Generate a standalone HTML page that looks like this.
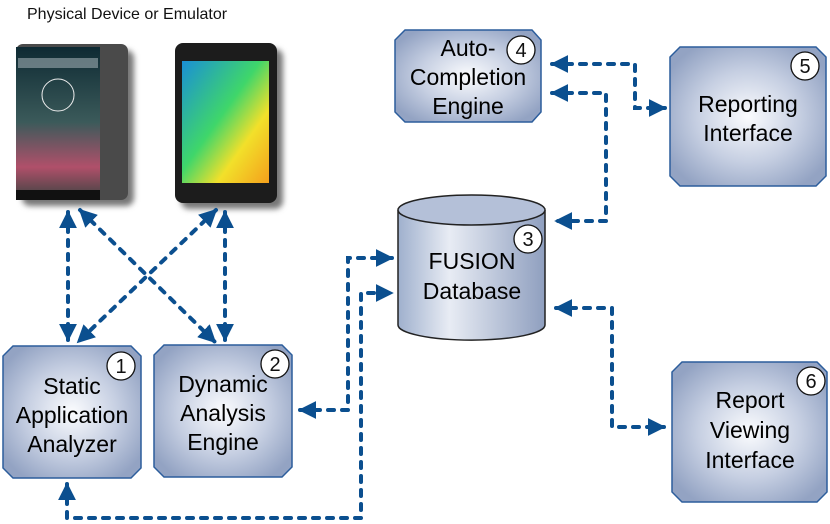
<!DOCTYPE html>
<html><head><meta charset="utf-8"><style>
html,body{margin:0;padding:0;background:#fff;}
svg{display:block;font-family:"Liberation Sans",Arial,sans-serif;}
</style></head><body>
<svg width="830" height="524" viewBox="0 0 830 524" xmlns="http://www.w3.org/2000/svg">
<defs>
<radialGradient id="g" cx="0.5" cy="0.5" r="0.6">
<stop offset="0" stop-color="#fbfcfe"/><stop offset="0.55" stop-color="#c6cfe2"/><stop offset="1" stop-color="#93a3c3"/>
</radialGradient>
<linearGradient id="cyl" x1="0" x2="1" y1="0" y2="0">
<stop offset="0" stop-color="#9fb0cd"/><stop offset="0.35" stop-color="#e8ecf4"/><stop offset="1" stop-color="#8f9fbf"/>
</linearGradient>
<linearGradient id="scr" x1="0" y1="0" x2="1" y2="1">
<stop offset="0" stop-color="#1a8fd6"/><stop offset="0.45" stop-color="#3fd66a"/><stop offset="0.7" stop-color="#f2e02a"/><stop offset="1" stop-color="#f4a01c"/>
</linearGradient>
<linearGradient id="scr2" x1="0" y1="0" x2="0" y2="1">
<stop offset="0" stop-color="#0e2a33"/><stop offset="0.5" stop-color="#3b5a5a"/><stop offset="0.8" stop-color="#b0506a"/><stop offset="1" stop-color="#444"/>
</linearGradient>
<marker id="a" viewBox="0 0 10 10" refX="9" refY="5" markerWidth="4.5" markerHeight="4.5" orient="auto-start-reverse" markerUnits="strokeWidth">
<path d="M0,0 L10,5 L0,10 z" fill="#0b4f8f"/></marker>
<filter id="sh" x="-20%" y="-20%" width="150%" height="150%"><feGaussianBlur stdDeviation="3"/></filter>
</defs>

<text x="27" y="19" font-size="16" fill="#111">Physical Device or Emulator</text>

<rect x="22" y="50" width="112" height="156" rx="8" fill="#777" filter="url(#sh)"/>
<rect x="16" y="44" width="112" height="156" rx="7" fill="#4a4a4a"/>
<rect x="16" y="47" width="84" height="150" fill="url(#scr2)"/>
<rect x="18" y="58" width="80" height="10" fill="#8a9aa0" opacity="0.7"/>
<circle cx="58" cy="95" r="16" fill="none" stroke="#eee" stroke-width="1"/>
<rect x="16" y="190" width="84" height="10" fill="#111"/>
<rect x="181" y="49" width="102" height="160" rx="8" fill="#777" filter="url(#sh)"/>
<rect x="175" y="43" width="102" height="160" rx="8" fill="#1c1c1c"/>
<rect x="182" y="61" width="87" height="122" fill="url(#scr)"/>

<g fill="none" stroke="#0b4f8f" stroke-width="4" stroke-dasharray="6 8" stroke-linecap="round">
<path d="M68 212 L68 340" marker-start="url(#a)" marker-end="url(#a)"/>
<path d="M225 212 L225 340" marker-start="url(#a)" marker-end="url(#a)"/>
<path d="M80 210 L215 342" marker-start="url(#a)" marker-end="url(#a)"/>
<path d="M216 210 L78 342" marker-start="url(#a)" marker-end="url(#a)"/>
<path d="M300 410 L348 410 L348 258 L392 258" marker-start="url(#a)" marker-end="url(#a)"/>
<path d="M67 484 L67 518 L361 518 L361 293 L392 293" marker-start="url(#a)" marker-end="url(#a)"/>
<path d="M552 64 L635 64 L635 108 L665 108" marker-start="url(#a)" marker-end="url(#a)"/>
<path d="M552 93 L606 93 L606 221 L556 221" marker-start="url(#a)" marker-end="url(#a)"/>
<path d="M556 308 L612 308 L612 427 L664 427" marker-start="url(#a)" marker-end="url(#a)"/>
</g>

<g stroke="#2c5d9c" stroke-width="1.5" fill="url(#g)">
<path d="M405 30 L532 30 L541 40 L541 112 L532 122 L405 122 L395 112 L395 40 Z"/>
<path d="M680 47 L816 47 L826 57 L826 176 L816 186 L680 186 L670 176 L670 57 Z"/>
<path d="M13 346 L131 346 L141 356 L141 468 L131 478 L13 478 L3 468 L3 356 Z"/>
<path d="M164 345 L282 345 L292 355 L292 467 L282 477 L164 477 L154 467 L154 355 Z"/>
<path d="M682 362 L817 362 L827 372 L827 492 L817 502 L682 502 L672 492 L672 372 Z"/>
</g>
<path d="M398 210 L398 325 A73 15 0 0 0 545 325 L545 210" fill="url(#cyl)" stroke="#222" stroke-width="1.5"/>
<ellipse cx="471.5" cy="210" rx="73.5" ry="15" fill="#b4c0d8" stroke="#222" stroke-width="1.5"/>

<g stroke="#111" stroke-width="1.3" fill="#fff">
<circle cx="521" cy="50" r="14"/><circle cx="805" cy="66" r="14"/><circle cx="528" cy="239" r="14"/>
<circle cx="121" cy="366" r="14"/><circle cx="275" cy="364" r="14"/><circle cx="811" cy="381" r="14"/>
</g>
<g font-size="20" text-anchor="middle" fill="#111">
<text x="521" y="57">4</text><text x="805" y="73">5</text><text x="528" y="246">3</text>
<text x="121" y="373">1</text><text x="275" y="371">2</text><text x="811" y="388">6</text>
</g>
<g font-size="23" text-anchor="middle" fill="#000">
<text x="468" y="56">Auto-</text><text x="468" y="85">Completion</text><text x="468" y="114">Engine</text>
<text x="748" y="112">Reporting</text><text x="748" y="141">Interface</text>
<text x="472" y="269">FUSION</text><text x="472" y="299">Database</text>
<text x="72" y="394">Static</text><text x="72" y="423">Application</text><text x="72" y="452">Analyzer</text>
<text x="223" y="392">Dynamic</text><text x="223" y="421">Analysis</text><text x="223" y="450">Engine</text>
<text x="750" y="408">Report</text><text x="750" y="438">Viewing</text><text x="750" y="468">Interface</text>
</g>
</svg>
</body></html>
